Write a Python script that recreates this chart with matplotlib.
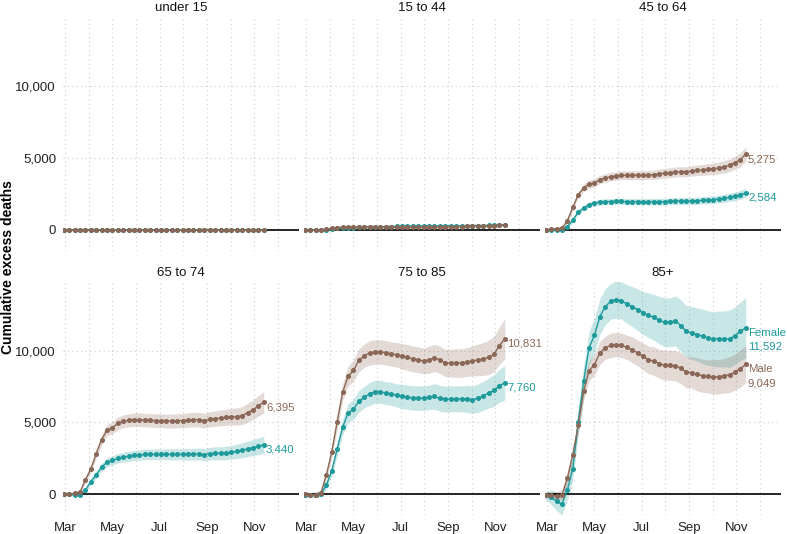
import numpy as np
import pandas as pd
import matplotlib
matplotlib.use("Agg")
import matplotlib.pyplot as plt
import matplotlib.dates as mdates

plt.rcParams['font.family'] = ['Liberation Sans', 'DejaVu Sans']

# weekly cumulative excess deaths, weeks ending Fridays from 28 Feb 2020
weeks = pd.date_range("2020-02-28", periods=38, freq="7D")
groups = ["under 15", "15 to 44", "45 to 64", "65 to 74", "75 to 85", "85+"]

male_u15 = [0, 0, 0, 0, 0, 0, 0, 0, 0, 0, 0, 0, 0, 0, 0, 0, 0, 0, 0, 0,
            0, 0, 0, 0, -5, -5, -5, -10, -10, -10, -10, -15, -15, -20, -20, -20, -25, -25]
female_u15 = [0, 0, 0, 0, 0, 0, 5, 5, 5, 5, 5, 5, 5, 5, 5, 5, 5, 5, 5, 5,
              5, 5, 5, 5, 0, 0, 0, 0, 0, -5, -5, -5, -5, -10, -10, -10, -10, -10]

male_15 = [0, 0, 0, 10, 60, 120, 170, 190, 200, 200, 200, 200, 200, 200, 200, 190, 190, 180, 180, 180,
           180, 180, 190, 190, 200, 200, 210, 220, 230, 240, 250, 260, 270, 280, 290, 310, 330, 360]
female_15 = [0, 0, 0, 0, 30, 70, 110, 140, 160, 170, 180, 190, 200, 210, 220, 230, 240, 250, 260, 270,
             270, 280, 280, 280, 280, 280, 280, 290, 290, 290, 300, 300, 310, 310, 320, 330, 340, 350]

male_45 = [0, 50, 90, 120, 650, 1570, 2450, 2920, 3190, 3260, 3500, 3610, 3700, 3750, 3800, 3800, 3800, 3800, 3800, 3820,
           3840, 3890, 3940, 3980, 4030, 4050, 4030, 4100, 4140, 4170, 4210, 4260, 4310, 4380, 4490, 4680, 4880, 5275]
female_45 = [0, -10, -20, 0, 230, 690, 1230, 1530, 1760, 1850, 1940, 1970, 1970, 1990, 1990, 1970, 1970, 1970, 1970, 1970,
             1970, 1970, 1970, 1990, 2010, 2010, 2010, 2010, 2040, 2060, 2080, 2110, 2150, 2200, 2270, 2340, 2430, 2584]

male_65 = [0, 0, 50, 140, 990, 1740, 2820, 3800, 4460, 4620, 4930, 5070, 5140, 5190, 5190, 5160, 5140, 5120, 5120, 5090,
           5090, 5120, 5120, 5160, 5190, 5190, 5120, 5210, 5260, 5300, 5350, 5400, 5400, 5470, 5680, 5870, 6150, 6395]
female_65 = [-30, -30, -40, -50, 280, 870, 1340, 1880, 2210, 2350, 2490, 2580, 2630, 2700, 2720, 2760, 2770, 2770, 2770, 2770,
             2770, 2770, 2770, 2770, 2780, 2790, 2750, 2820, 2840, 2840, 2860, 2910, 2980, 3050, 3150, 3240, 3330, 3440]

male_75 = [0, -50, -50, 100, 1330, 2960, 5060, 7090, 8200, 8620, 9320, 9650, 9840, 9910, 9910, 9860, 9770, 9720, 9600, 9530,
           9420, 9370, 9280, 9370, 9490, 9370, 9140, 9140, 9140, 9140, 9210, 9280, 9350, 9420, 9530, 9750, 10350, 10831]
female_75 = [-50, -50, -50, 0, 630, 1630, 3150, 4660, 5640, 5920, 6460, 6760, 6990, 7130, 7130, 7040, 6990, 6880, 6810, 6760,
             6710, 6690, 6690, 6740, 6810, 6670, 6620, 6640, 6640, 6640, 6640, 6570, 6690, 6850, 7040, 7230, 7550, 7760]

male_85 = [-90, -90, -140, -50, 1120, 2740, 4790, 7160, 8600, 9020, 9840, 10190, 10370, 10420, 10370, 10230, 10070, 9840, 9600, 9370,
           9260, 9090, 8980, 8980, 8950, 8790, 8490, 8470, 8350, 8250, 8200, 8180, 8180, 8250, 8330, 8500, 8750, 9049]
female_85 = [-90, -230, -500, -700, 300, 1770, 5020, 7860, 10190, 11070, 12370, 13070, 13440, 13560, 13490, 13260, 13070, 12860, 12630, 12470,
             12330, 12120, 11980, 11980, 12080, 11750, 11350, 11240, 11120, 11000, 10890, 10820, 10820, 10820, 10830, 11050, 11350, 11592]

# half-widths of the shaded intervals
male_u15_hw = [10] * 10 + [15] * 14 + [20] * 14
female_u15_hw = [10] * 10 + [15] * 14 + [20] * 14
male_15_hw = [20, 20, 20, 25, 30, 35, 40, 40, 40, 40, 40, 40, 40, 40, 45, 45, 45, 45, 45, 45,
              45, 45, 50, 50, 50, 50, 50, 50, 55, 55, 55, 55, 60, 60, 60, 60, 65, 65]
female_15_hw = [20, 20, 20, 20, 25, 30, 35, 35, 35, 35, 35, 40, 40, 40, 40, 40, 40, 40, 40, 40,
                45, 45, 45, 45, 45, 45, 45, 45, 50, 50, 50, 50, 50, 55, 55, 55, 60, 60]
male_45_hw = [50, 60, 70, 80, 120, 170, 220, 250, 270, 280, 290, 300, 300, 300, 300, 300, 310, 310, 310, 320,
              320, 330, 330, 340, 340, 350, 350, 360, 370, 380, 390, 400, 410, 420, 440, 460, 480, 500]
female_45_hw = [40, 40, 50, 60, 80, 110, 140, 160, 180, 190, 200, 200, 200, 200, 210, 210, 210, 210, 220, 220,
                220, 230, 230, 230, 240, 240, 240, 250, 250, 260, 260, 270, 270, 280, 290, 300, 310, 320]
male_65_hw = [80, 100, 100, 120, 200, 250, 300, 350, 400, 420, 450, 450, 450, 470, 470, 470, 470, 480, 480, 480,
              490, 490, 500, 500, 500, 510, 520, 530, 540, 550, 560, 580, 600, 620, 650, 680, 720, 750]
female_65_hw = [60, 70, 80, 90, 150, 200, 250, 280, 300, 320, 330, 340, 350, 350, 360, 360, 370, 370, 380, 380,
                390, 390, 400, 400, 410, 420, 430, 440, 450, 460, 470, 480, 500, 520, 540, 560, 580, 600]
male_75_hw = [150, 150, 200, 200, 300, 400, 500, 600, 700, 750, 800, 800, 850, 850, 850, 850, 850, 850, 900, 900,
              900, 900, 900, 950, 950, 950, 950, 950, 1000, 1000, 1000, 1050, 1100, 1150, 1200, 1250, 1300, 1400]
female_75_hw = [150, 150, 200, 200, 250, 350, 450, 550, 650, 700, 750, 750, 800, 800, 800, 800, 800, 800, 850, 850,
                850, 850, 850, 850, 900, 900, 900, 900, 900, 900, 950, 950, 1000, 1000, 1050, 1100, 1150, 1200]
male_85_hw = [200, 250, 300, 350, 400, 450, 550, 650, 700, 750, 800, 800, 850, 850, 850, 850, 900, 900, 950, 950,
              1000, 1000, 1050, 1050, 1050, 1100, 1100, 1100, 1150, 1150, 1150, 1200, 1200, 1200, 1250, 1250, 1300, 1300]
female_85_hw = [300, 500, 650, 750, 700, 800, 950, 1050, 1150, 1200, 1250, 1250, 1250, 1300, 1300, 1350, 1400, 1450, 1500, 1550,
                1600, 1650, 1700, 1700, 1750, 1800, 1800, 1850, 1850, 1900, 1900, 1900, 1950, 1950, 2000, 2000, 2050, 2100]

male_all = [male_u15, male_15, male_45, male_65, male_75, male_85]
female_all = [female_u15, female_15, female_45, female_65, female_75, female_85]
male_hw = [male_u15_hw, male_15_hw, male_45_hw, male_65_hw, male_75_hw, male_85_hw]
female_hw = [female_u15_hw, female_15_hw, female_45_hw, female_65_hw, female_75_hw, female_85_hw]
show_label = [False, False, True, True, True, True]

male_col = "#8a6756"
female_col = "#1d9a9a"

fig = plt.figure(figsize=(7.87, 5.34), dpi=100)
W, H = 787.0, 534.0
lefts = [63, 304, 545]
rows = [(17, 251), (282, 515)]

for k, g in enumerate(groups):
    r, c = divmod(k, 3)
    top, bot = rows[r]
    ax = fig.add_axes([lefts[c] / W, 1 - bot / H, 235.5 / W, (bot - top) / H])

    m = np.array(male_all[k]); f = np.array(female_all[k])
    mh = np.array(male_hw[k]); fh = np.array(female_hw[k])

    ax.fill_between(weeks, f - fh, f + fh, color=female_col, alpha=0.24, lw=0, zorder=2)
    ax.fill_between(weeks, m - mh, m + mh, color=male_col, alpha=0.24, lw=0, zorder=2)
    ax.axhline(0, color="black", lw=1.2, zorder=3)
    ax.plot(weeks, f, color=female_col, lw=1.0, marker="o", ms=2.6, zorder=4)
    ax.plot(weeks, m, color=male_col, lw=1.0, marker="o", ms=2.6, zorder=5)

    if show_label[k]:
        if g == "85+":
            ml = "Male\n{:,}".format(m[-1]); fl = "Female\n{:,}".format(f[-1])
        else:
            ml = "{:,}".format(m[-1]); fl = "{:,}".format(f[-1])
        ax.annotate(ml, (weeks[-1], m[-1]), xytext=(1.6, 0), textcoords="offset points",
                    ha="left", va="top", color=male_col, fontsize=8.2, linespacing=1.5,
                    annotation_clip=False)
        ax.annotate(fl, (weeks[-1], f[-1]), xytext=(1.6, 0), textcoords="offset points",
                    ha="left", va="top", color=female_col, fontsize=8.2, linespacing=1.5,
                    annotation_clip=False)

    ax.set_xlim(pd.Timestamp("2020-02-27"), pd.Timestamp("2020-12-28"))
    ax.set_ylim(-1460, 14790)
    ax.xaxis.set_major_locator(mdates.MonthLocator(bymonth=[3, 5, 7, 9, 11]))
    ax.xaxis.set_minor_locator(mdates.MonthLocator(bymonth=[4, 6, 8, 10, 12]))
    ax.xaxis.set_major_formatter(mdates.DateFormatter("%b"))
    ax.set_yticks([0, 5000, 10000])
    ax.set_yticklabels(["0", "5,000", "10,000"])
    ax.grid(True, which="both", axis="x", color="#cccccc", lw=0.8, ls=(0, (1, 3)))
    ax.grid(True, which="major", axis="y", color="#cccccc", lw=0.8, ls=(0, (1, 3)))
    ax.set_axisbelow(True)
    ax.tick_params(which="both", length=0, labelsize=9.5, labelcolor="#222222")
    ax.tick_params(axis="x", pad=5)
    ax.tick_params(axis="y", pad=5)
    if r == 0:
        ax.tick_params(axis="x", labelbottom=False)
    if c > 0:
        ax.tick_params(axis="y", labelleft=False)
    for s in ax.spines.values():
        s.set_visible(False)
    ax.set_title(g, fontsize=9.5, pad=4, color="#111111")

fig.text(0.010, 0.5, "Cumulative excess deaths", rotation=90, va="center", ha="center",
         fontsize=10, fontweight="bold")

fig.savefig("out.png", dpi=100)
